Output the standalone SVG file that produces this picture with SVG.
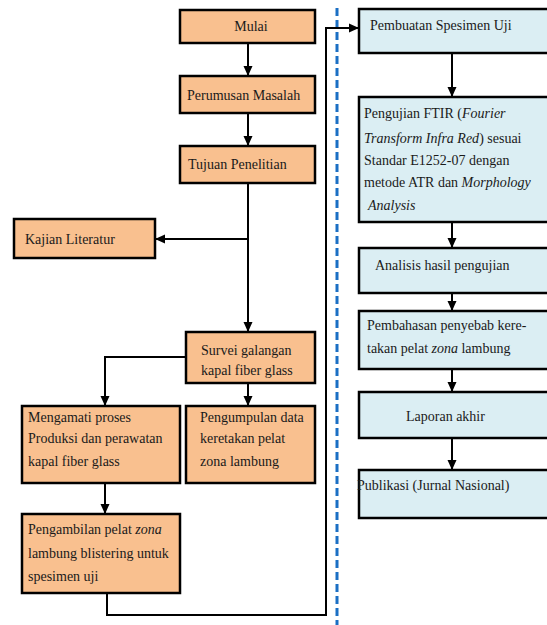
<svg xmlns="http://www.w3.org/2000/svg" width="547" height="625" viewBox="0 0 547 625">
<defs>
<style>
.o{fill:#F9C08F;stroke:#000;stroke-width:2.5}
.b{fill:#DBEEF3;stroke:#000;stroke-width:2.5}
text{font-family:'Liberation Serif','DejaVu Serif',serif;font-size:14px;fill:#1a1a1a}
.c{stroke:#000;stroke-width:2;fill:none}
.d{stroke:#1A6FC4;stroke-width:3;fill:none;stroke-dasharray:8 4}
</style>
<marker id="ah" markerUnits="userSpaceOnUse" markerWidth="10" markerHeight="10" viewBox="0 0 10 10" refX="10" refY="5" orient="auto">
<path d="M0,0.5 L10,5 L0,9.5 Z" fill="#000"/>
</marker>
</defs>
<rect width="547" height="625" fill="#fff"/>
<line class="d" x1="337" y1="8" x2="337" y2="625"/>
<g id="connectors">
<line class="c" x1="248" y1="43" x2="248" y2="76" marker-end="url(#ah)"/>
<line class="c" x1="248" y1="113" x2="248" y2="146" marker-end="url(#ah)"/>
<line class="c" x1="248" y1="183" x2="248" y2="332" marker-end="url(#ah)"/>
<line class="c" x1="248" y1="239" x2="155" y2="239" marker-end="url(#ah)"/>
<polyline class="c" points="186,357 105,357 105,406" marker-end="url(#ah)"/>
<line class="c" x1="248" y1="383" x2="248" y2="406" marker-end="url(#ah)"/>
<line class="c" x1="105" y1="483" x2="105" y2="514" marker-end="url(#ah)"/>
<polyline class="c" points="107,593 107,615 326,615 326,28 359,28" marker-end="url(#ah)"/>
<line class="c" x1="452" y1="53" x2="452" y2="97" marker-end="url(#ah)"/>
<line class="c" x1="452" y1="222" x2="452" y2="248" marker-end="url(#ah)"/>
<line class="c" x1="452" y1="293" x2="452" y2="311" marker-end="url(#ah)"/>
<line class="c" x1="452" y1="369" x2="452" y2="392" marker-end="url(#ah)"/>
<line class="c" x1="452" y1="438" x2="452" y2="470" marker-end="url(#ah)"/>
</g>
<g id="mulai"><rect class="o" x="180" y="10" width="135" height="33"/><text x="251" y="31" text-anchor="middle">Mulai</text></g>
<g id="perumusan"><rect class="o" x="180" y="76" width="135" height="37"/><text x="187" y="100">Perumusan Masalah</text></g>
<g id="tujuan"><rect class="o" x="180" y="146" width="135" height="37"/><text x="188" y="169">Tujuan Penelitian</text></g>
<g id="kajian"><rect class="o" x="14" y="219" width="141" height="39"/><text x="25" y="244">Kajian Literatur</text></g>
<g id="survei"><rect class="o" x="186" y="332" width="129" height="51"/><text x="201" y="355">Survei galangan</text><text x="201" y="375">kapal fiber glass</text></g>
<g id="mengamati"><rect class="o" x="22" y="406" width="158" height="77"/><text x="28" y="422">Mengamati proses</text><text x="28" y="443">Produksi dan perawatan</text><text x="28" y="466">kapal fiber glass</text></g>
<g id="pengumpulan"><rect class="o" x="186" y="406" width="129" height="77"/><text x="200" y="422">Pengumpulan data</text><text x="200" y="443">keretakan pelat</text><text x="200" y="466">zona lambung</text></g>
<g id="pengambilan"><rect class="o" x="22" y="514" width="158" height="79"/><text x="28" y="534">Pengambilan pelat <tspan font-style="italic">zona</tspan></text><text x="28" y="558">lambung blistering untuk</text><text x="28" y="581">spesimen uji</text></g>
<g id="pembuatan"><rect class="b" x="359" y="9" width="195" height="44"/><text x="370" y="30">Pembuatan Spesimen Uji</text></g>
<g id="ftir"><rect class="b" x="359" y="97" width="195" height="125"/><text x="364" y="118">Pengujian FTIR (<tspan font-style="italic">Fourier</tspan></text><text x="364" y="143"><tspan font-style="italic">Transform Infra Red</tspan>) sesuai</text><text x="364" y="165">Standar E1252-07 dengan</text><text x="364" y="187">metode ATR dan <tspan font-style="italic">Morphology</tspan></text><text x="368" y="210" font-style="italic">Analysis</text></g>
<g id="analisis"><rect class="b" x="359" y="248" width="195" height="45"/><text x="375" y="270">Analisis hasil pengujian</text></g>
<g id="pembahasan"><rect class="b" x="359" y="311" width="195" height="58"/><text x="367" y="330">Pembahasan penyebab kere-</text><text x="367" y="353">takan pelat <tspan font-style="italic">zona</tspan> lambung</text></g>
<g id="laporan"><rect class="b" x="359" y="392" width="195" height="46"/><text x="406" y="421">Laporan akhir</text></g>
<g id="publikasi"><rect class="b" x="359" y="470" width="195" height="48"/><text x="357" y="490">Publikasi (Jurnal Nasional)</text></g>
</svg>
